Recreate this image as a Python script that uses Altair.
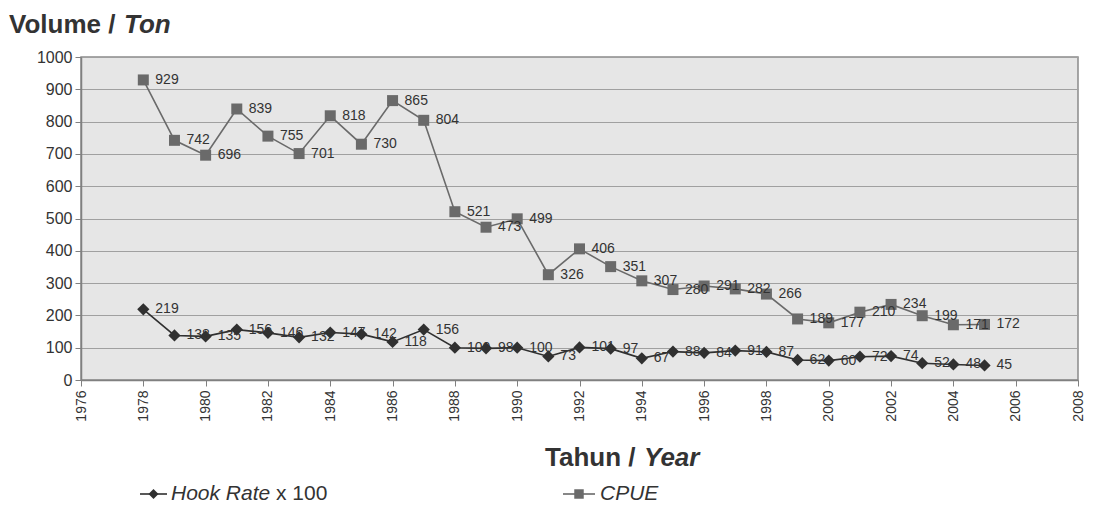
import altair as alt
import pandas as pd

years = list(range(1978, 2006))
cpue = [929, 742, 696, 839, 755, 701, 818, 730, 865, 804,
        521, 473, 499, 326, 406, 351, 307, 280, 291, 282,
        266, 189, 177, 210, 234, 199, 171, 172]
hook = [219, 138, 135, 156, 146, 132, 147, 142, 118, 156,
        100, 98, 100, 73, 101, 97, 67, 88, 84, 91,
        87, 62, 60, 72, 74, 52, 48, 45]
x_ticks = list(range(1976, 2010, 2))
y_ticks = list(range(0, 1100, 100))

FONT = "Liberation Sans"
W, H = 997, 323

df_c = pd.DataFrame({"year": years, "value": cpue})
df_h = pd.DataFrame({"year": years, "value": hook})

xenc = alt.X("year:Q", scale=alt.Scale(domain=[1976, 2008], nice=False, zero=False),
             axis=alt.Axis(values=x_ticks, format="d", labelAngle=-90, title=None, grid=False,
                           labelFontSize=14, labelPadding=4, tickSize=6))
yenc = alt.Y("value:Q", scale=alt.Scale(domain=[0, 1000], nice=False),
             axis=alt.Axis(values=y_ticks, format="d", title=None, grid=True, labelFontSize=16,
                           labelPadding=3, tickSize=6))

C_CPUE = "#6a6a6a"
C_HOOK = "#303030"

cpue_line = alt.Chart(df_c).mark_line(color=C_CPUE, strokeWidth=1.6).encode(x=xenc, y=yenc)
cpue_pts = alt.Chart(df_c).mark_point(shape="square", filled=True, size=121, color=C_CPUE,
                                      opacity=1).encode(x=xenc, y=yenc)
cpue_txt = alt.Chart(df_c).mark_text(align="left", baseline="middle", dx=12, fontSize=14,
                                     color="#333333", font=FONT).encode(x=xenc, y=yenc, text="value:Q")

hook_line = alt.Chart(df_h).mark_line(color=C_HOOK, strokeWidth=1.6).encode(x=xenc, y=yenc)
hook_pts = alt.Chart(df_h).mark_point(shape="diamond", filled=True, size=150, color=C_HOOK,
                                      opacity=1).encode(x=xenc, y=yenc)
hook_txt = alt.Chart(df_h).mark_text(align="left", baseline="middle", dx=12, fontSize=14,
                                     color="#333333", font=FONT).encode(x=xenc, y=yenc, text="value:Q")

dummy = pd.DataFrame({"a": [0]})


def txt(s, x, y, size, bold=True, italic=False, align="left"):
    return alt.Chart(dummy).mark_text(
        text=s, align=align, baseline="middle", fontSize=size, font=FONT,
        fontWeight="bold" if bold else "normal", fontStyle="italic" if italic else "normal",
        color="#333333").encode(x=alt.value(x), y=alt.value(y))


# titles
t1 = txt("Volume /", -72, -32, 26)
t2 = txt("Ton", 43, -32, 26, italic=True)
t3 = txt("Tahun /", 464, 401, 26)
t4 = txt("Year", 563, 401, 26, italic=True)

# legend
LY = 437
leg_h_rule = alt.Chart(dummy).mark_rule(color=C_HOOK, strokeWidth=1.6).encode(
    x=alt.value(59), x2=alt.value(86), y=alt.value(LY))
leg_h_pt = alt.Chart(dummy).mark_point(shape="diamond", filled=True, size=100, color=C_HOOK,
                                       opacity=1).encode(x=alt.value(72.5), y=alt.value(LY))
leg_h_t1 = txt("Hook Rate", 90, LY, 21, bold=False, italic=True)
leg_h_t2 = txt("x 100", 195, LY, 21, bold=False)

leg_c_rule = alt.Chart(dummy).mark_rule(color=C_CPUE, strokeWidth=1.6).encode(
    x=alt.value(482), x2=alt.value(514), y=alt.value(LY))
leg_c_pt = alt.Chart(dummy).mark_point(shape="square", filled=True, size=90, color=C_CPUE,
                                       opacity=1).encode(x=alt.value(498), y=alt.value(LY))
leg_c_t = txt("CPUE", 519, LY, 21, bold=False, italic=True)

chart = alt.layer(
    cpue_line, hook_line, cpue_pts, hook_pts, cpue_txt, hook_txt,
    t1, t2, t3, t4, leg_h_rule, leg_h_pt, leg_h_t1, leg_h_t2, leg_c_rule, leg_c_pt, leg_c_t
).properties(
    width=W, height=H,
    autosize=alt.AutoSizeParams(type="none"),
    padding={"left": 73, "top": 49, "right": 7, "bottom": 128},
    background="white",
).configure_view(
    fill="#e6e6e6", stroke="#8a8a8a", strokeWidth=1.5
).configure_axis(
    domainColor="#808080", tickColor="#808080", gridColor="#a0a0a0", gridWidth=1.2,
    labelColor="#333333", labelFont=FONT, domainWidth=1.5
)

chart.save("out.html", embed_options={"renderer": "svg", "actions": False})
